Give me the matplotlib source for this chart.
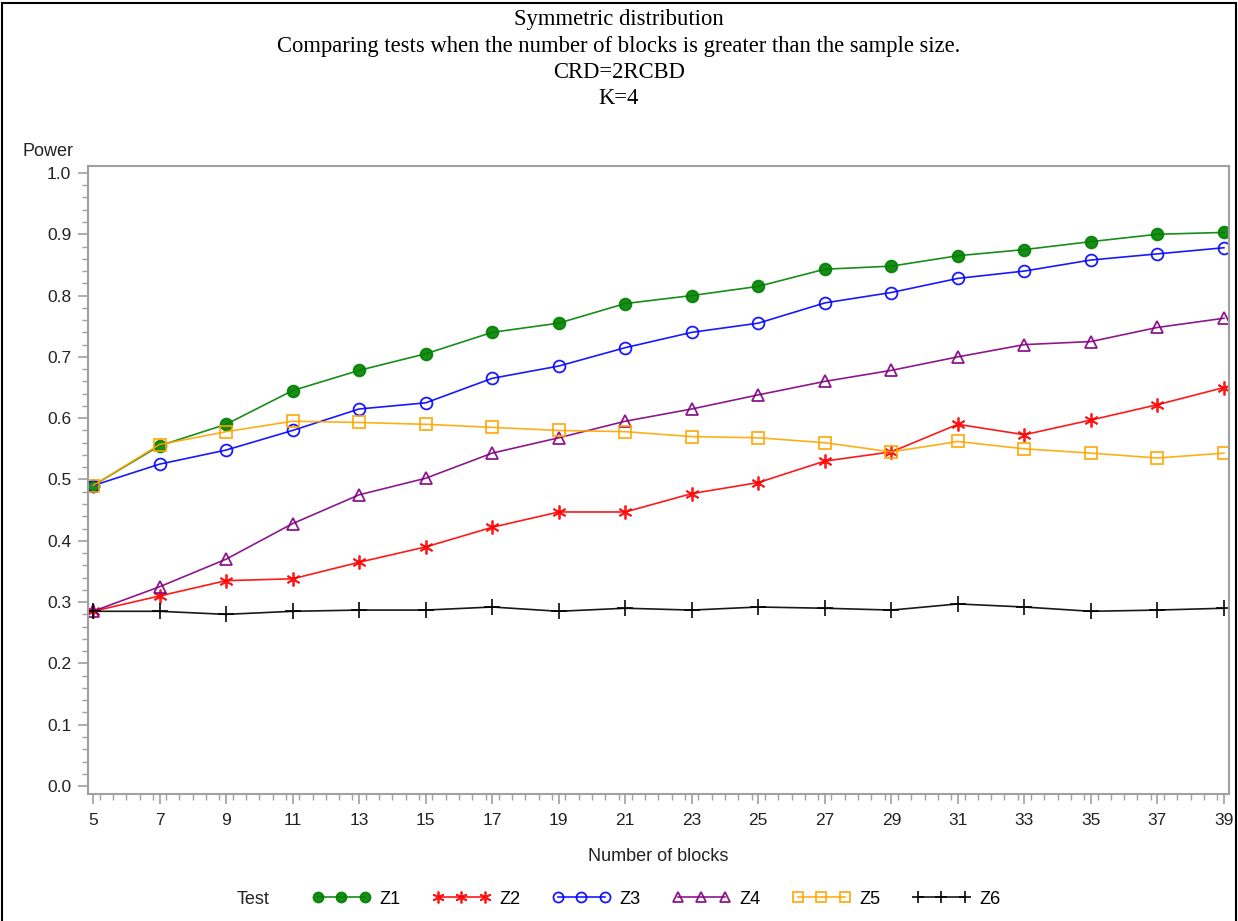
import numpy as np
import matplotlib
matplotlib.use("Agg")
import matplotlib.pyplot as plt
from matplotlib.patches import Rectangle
from matplotlib.ticker import MultipleLocator

# number of blocks
blocks = [5, 7, 9, 11, 13, 15, 17, 19, 21, 23, 25, 27, 29, 31, 33, 35, 37, 39]

# power of each test
z1 = [0.490, 0.555, 0.590, 0.645, 0.678, 0.705, 0.740, 0.755, 0.787, 0.800,
      0.815, 0.843, 0.848, 0.865, 0.875, 0.888, 0.900, 0.903]
z2 = [0.285, 0.310, 0.335, 0.338, 0.365, 0.390, 0.422, 0.447, 0.447, 0.477,
      0.495, 0.530, 0.545, 0.590, 0.573, 0.597, 0.622, 0.650]
z3 = [0.490, 0.525, 0.548, 0.580, 0.615, 0.625, 0.665, 0.685, 0.715, 0.740,
      0.755, 0.788, 0.805, 0.828, 0.840, 0.858, 0.868, 0.878]
z4 = [0.285, 0.325, 0.370, 0.428, 0.475, 0.502, 0.543, 0.568, 0.595, 0.615,
      0.638, 0.660, 0.678, 0.700, 0.720, 0.725, 0.748, 0.763]
z5 = [0.490, 0.557, 0.578, 0.595, 0.593, 0.590, 0.585, 0.580, 0.578, 0.570,
      0.568, 0.560, 0.545, 0.562, 0.550, 0.543, 0.535, 0.543]
z6 = [0.285, 0.285, 0.280, 0.285, 0.287, 0.287, 0.292, 0.285, 0.290, 0.287,
      0.292, 0.290, 0.287, 0.297, 0.292, 0.285, 0.287, 0.290]

names = ["Z1", "Z2", "Z3", "Z4", "Z5", "Z6"]
series = [z1, z2, z3, z4, z5, z6]

# (line colour, marker, marker face, marker size)
styles = [
    ("#008000", "o", "#008000", 8.5),
    ("#FF0000", (6, 2, 0), "#FF0000", 10),
    ("#0000FF", "o", "none", 8.5),
    ("#800080", "^", "none", 8.5),
    ("#FFA500", "s", "none", 8.5),
    ("#000000", "+", "#000000", 11),
]

plt.rcParams["font.family"] = ["Liberation Sans", "DejaVu Sans"]

fig = plt.figure(figsize=(12.38, 9.21), dpi=100)
ax = fig.add_axes([0.0711, 0.1379, 0.9216, 0.6819])

handles = []
for name, y, (col, mk, face, ms) in zip(names, series, styles):
    h, = ax.plot(blocks, y, color=col, lw=1.2, marker=mk, ms=ms,
                 mfc=face, mec=col, mew=1.3, label=name, alpha=0.9)
    handles.append(h)

ax.set_xticks(blocks)
ax.xaxis.set_minor_locator(MultipleLocator(0.4))
ax.yaxis.set_major_locator(MultipleLocator(0.1))
ax.yaxis.set_minor_locator(MultipleLocator(0.02))
ax.set_xlim(4.85, 39.15)
ax.set_ylim(-0.013, 1.0114)
ax.yaxis.set_major_formatter(lambda v, p: f"{v:.1f}")

grey = "#A0A0A0"
for s in ax.spines.values():
    s.set_color(grey)
    s.set_linewidth(1.5)
ax.tick_params(which="major", length=7, width=1.2, color=grey,
               labelsize=12.5, labelcolor="#222222")
ax.tick_params(axis="x", which="major", pad=7)
ax.tick_params(axis="y", which="major", pad=5)
ax.tick_params(which="minor", length=4, width=1.0, color=grey)

ax.set_xlabel("Number of blocks", fontsize=13, labelpad=14, color="#222222")
fig.text(48 / 1238, 1 - 152 / 921, "Power", ha="center", va="center",
         fontsize=13, color="#222222")

titles = ["Symmetric distribution",
          "Comparing tests when the number of blocks is greater than the sample size.",
          "CRD=2RCBD",
          "K=4"]
for i, t in enumerate(titles):
    fig.text(0.5, 1 - (20 + 26.3 * i) / 921, t, ha="center", va="center",
             fontsize=16.3, family=["Liberation Serif", "DejaVu Serif"])

fig.text(253 / 1238, 1 - 899 / 921, "Test", ha="center", va="center",
         fontsize=13, color="#222222")
fig.legend(handles=handles, loc="center left",
           bbox_to_anchor=(296 / 1238, 1 - 899 / 921), ncol=6, numpoints=3,
           frameon=False, fontsize=13, handlelength=3.2, handletextpad=0.5,
           columnspacing=1.78, markerscale=0.85)

# outer frame around the figure
fig.patches.append(Rectangle((0.002, -0.01), 0.996, 1.007, transform=fig.transFigure,
                             fill=False, edgecolor="black", lw=1.5))

fig.savefig("out.png", dpi=100)
